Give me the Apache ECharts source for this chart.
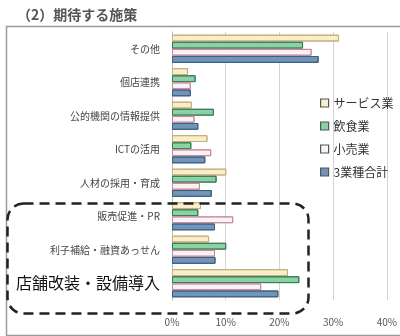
<!DOCTYPE html>
<html>
<head>
<meta charset="utf-8">
<script src="https://cdn.jsdelivr.net/npm/echarts@6/dist/echarts.min.js"></script>
<style>
html,body{margin:0;padding:0;background:#fff;}
#c{width:400px;height:336px;}
</style>
</head>
<body>
<div id="c"></div>
<script>
var categories = ['その他','個店連携','公的機関の情報提供','ICTの活用','人材の採用・育成','販売促進・PR','利子補給・融資あっせん','店舗改装・設備導入'];
var seriesNames = ['サービス業','飲食業','小売業','3業種合計'];
var service = [31.1, 3.0, 3.7, 6.6, 10.1, 5.4, 6.9, 21.6];
var food    = [24.4, 4.4, 7.8, 3.6, 8.3, 4.9, 10.1, 23.7];
var retail  = [26.0, 3.5, 4.2, 7.3, 5.2, 11.4, 8.0, 16.6];
var total   = [27.3, 3.5, 4.9, 6.2, 7.4, 8.0, 8.1, 19.8];
var xTicks = [0, 10, 20, 30, 40];

var font = "'Noto Sans CJK JP', sans-serif";
var styles = [
  {color:'#f6f1cc', borderColor:'#c9ad7a', decal:{symbol:'rect', symbolSize:0.6, color:'rgba(220,160,140,0.45)', dashArrayX:[1,2], dashArrayY:[1,2]}},
  {color:'#86d2a4', borderColor:'#3f7a56', decal:{symbol:'rect', symbolSize:0.6, color:'rgba(255,255,255,0.55)', dashArrayX:[1,2], dashArrayY:[1,2]}},
  {color:'#fbf4f7', borderColor:'#c98a9c', decal:{symbol:'rect', symbolSize:0.6, color:'rgba(210,150,170,0.45)', dashArrayX:[1,2], dashArrayY:[1,2]}},
  {color:'#6f94b9', borderColor:'#3e5f80', decal:{symbol:'rect', symbolSize:0.6, color:'rgba(255,255,255,0.25)', dashArrayX:[1,2], dashArrayY:[1,2]}}
];
var data = [service, food, retail, total];

var chart = echarts.init(document.getElementById('c'), null, {renderer:'canvas'});
chart.setOption({
  animation: false,
  aria: {enabled: false},
  textStyle: {fontFamily: font},
  title: {
    text: '（2）期待する施策',
    left: 12, top: 3,
    textStyle: {fontSize: 14, fontWeight: 'bold', color: '#555', fontFamily: font}
  },
  legend: {
    orient: 'vertical',
    left: 315, top: 92,
    itemWidth: 8, itemHeight: 8, itemGap: 11,
    icon: 'rect',
    textStyle: {fontSize: 12, color: '#333', fontFamily: font},
    data: seriesNames.map(function(n, i){
      return {name: n, itemStyle: {color: styles[i].color, borderColor: '#555', borderWidth: 1.2, decal: 'none'}};
    })
  },
  grid: {left: 172, right: 11, top: 32, bottom: 36},
  xAxis: {
    type: 'value', min: 0, max: 40, interval: 10,
    axisLine: {show: false}, axisTick: {show: false},
    axisLabel: {formatter: '{value}%', fontSize: 10, color: '#555', margin: 17, fontFamily: font},
    splitLine: {lineStyle: {color: '#d4d4d4', width: 1}}
  },
  yAxis: {
    type: 'category', inverse: true, data: categories,
    axisLine: {lineStyle: {color: '#bbb'}}, axisTick: {show: false},
    axisLabel: {
      fontSize: 10, color: '#444', margin: 12, fontFamily: font,
      formatter: function(v){ return v === '店舗改装・設備導入' ? '{big|' + v + '}' : v; },
      rich: {big: {fontSize: 16, color: '#111', fontFamily: font}}
    }
  },
  series: seriesNames.map(function(n, i){
    return {
      name: n, type: 'bar', data: data[i],
      barGap: '4%', barCategoryGap: '16%',
      itemStyle: {color: styles[i].color, borderColor: styles[i].borderColor, borderWidth: 1, decal: styles[i].decal}
    };
  }),
  graphic: [
    {type: 'rect', left: 4, top: 24, shape: {width: 400, height: 309}, style: {fill: 'none', stroke: '#9a9a9a', lineWidth: 1.5}, silent: true},
    {type: 'rect', left: 5, top: 201, shape: {width: 301, height: 110, r: 16}, style: {fill: 'none', stroke: '#222', lineWidth: 2.5, lineDash: [10, 6]}, silent: true, z: 100}
  ]
});
</script>
</body>
</html>
